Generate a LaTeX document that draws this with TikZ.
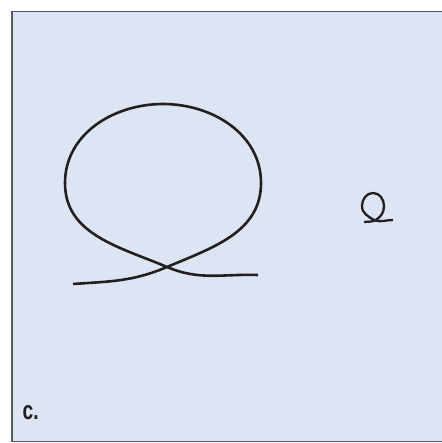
\documentclass[tikz,border=0pt]{standalone}
\usepackage{fontspec}
\usepackage{xcolor}
\usetikzlibrary{positioning}
\newfontfamily\panelfont{Liberation Sans}
\definecolor{panelbg}{RGB}{220,229,243}
\definecolor{panelframe}{RGB}{90,90,92}
\definecolor{wire}{RGB}{35,31,32}

\begin{document}
\begin{tikzpicture}[x=1pt, y=1pt]
	\tikzset{
		frame/.style={draw=panelframe, fill=panelbg, line width=1.6pt},
		knot/.style={draw=wire, line width=2.6pt},
		smallknot/.style={draw=wire, line width=2.3pt},
		panel/.style={font=\panelfont\bfseries\fontsize{26}{26}\selectfont, inner sep=0pt, anchor=base west, text=wire},
	}
	\useasboundingbox (0,0) rectangle (441,443);
	
	% Panel background
	\draw[frame] (11.8,1.5) rectangle (460,431.5);
	
	% Big loop
	\path[knot] (73,159) to[out=4, in=203] (167,176)
		to[out=23, in=-90] (261,260)
		to[out=90, in=0] (163,339)
		to[out=180, in=90] (65,260)
		to[out=-90, in=157] (167,176)
		to[out=-23, in=178] (258,168);
	
	% Small loop
	\path[smallknot] (364,221) to[out=5, in=200] (375,222.5)
		to[out=30, in=-90] (384,237)
		to[out=90, in=0] (373,250)
		to[out=180, in=90] (362,237)
		to[out=-90, in=150] (375,222.5)
		to[out=-15, in=180] (393,223);
	
	% Panel label
	\node[panel] (lbl) at (22.5,23) {\scalebox{0.74}[1]{c.}};
\end{tikzpicture}
\end{document}
